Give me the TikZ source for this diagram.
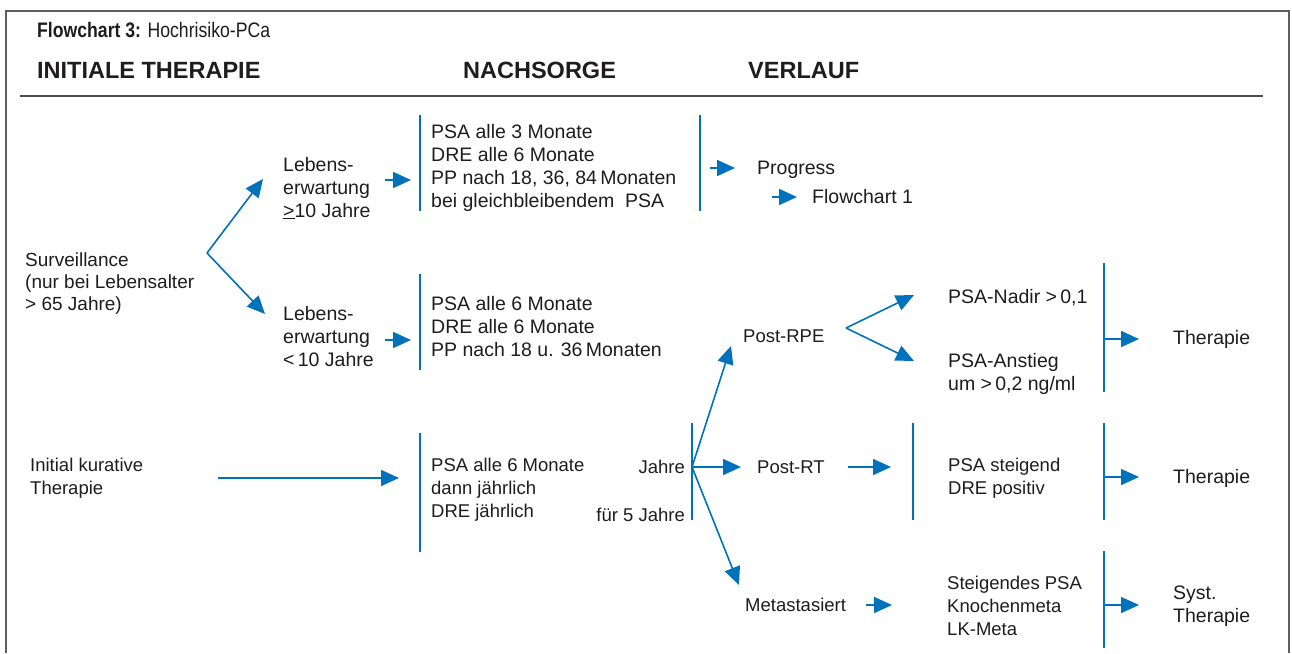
\documentclass[tikz,border=0pt]{standalone}
\usepackage{fontspec}
\setmainfont{Liberation Sans}
\newfontfamily\condfont[FakeStretch=0.84]{Liberation Sans}
\usetikzlibrary{arrows.meta}
\definecolor{flowblue}{RGB}{0,114,188}
\definecolor{ink}{RGB}{30,28,28}
\definecolor{framegray}{RGB}{95,95,95}

\begin{document}
\begin{tikzpicture}[x=1pt,y=-1pt,
  txt/.style={anchor=west,inner sep=0pt,align=left,text=ink,font=\fontsize{19.5}{23}\selectfont},
  small/.style={txt,font=\fontsize{18.5}{23}\selectfont},
  head/.style={anchor=base west,inner sep=0pt,text=ink,font=\fontsize{23.5}{27}\selectfont\bfseries},
  link/.style={draw=flowblue,line width=1.6pt,-{Triangle[length=18pt,width=16pt]}},
  bar/.style={draw=flowblue,line width=1.6pt}]
\useasboundingbox (0,0) rectangle (1292,653);

% frame and header rule
\draw[framegray,line width=2pt] (6,653) -- (6,11) -- (1289,11) -- (1289,653);
\draw[framegray!80!black,line width=2pt] (20,96) -- (1263,96);

% title and column heads
\node[anchor=base west,inner sep=0pt,text=ink,font=\condfont\fontsize{21}{24}\selectfont] (title) at (37,37)
  {\textbf{Flowchart 3:} Hochrisiko-PCa};
\node[head] (h1) at (37,78) {INITIALE THERAPIE};
\node[head] (h2) at (463,78) {NACHSORGE};
\node[head] (h3) at (748,78) {VERLAUF};

% ---------- surveillance ----------
\node[txt,font=\fontsize{19}{22}\selectfont] (surv) at (25,284) {Surveillance\\(nur bei Lebensalter\\> 65 Jahre)};
\coordinate (sv) at (207,253);
\coordinate (svup) at (263,179);
\coordinate (svdn) at (265,314);
\draw[link] (sv) -- (svup);
\draw[link] (sv) -- (svdn);

\node[txt] (le1) at (283,188) {Lebens-\\erwartung\\\underline{>}10 Jahre};
\node[txt] (le2) at (283,337) {Lebens-\\erwartung\\<\,10 Jahre};

\coordinate (a1s) at (385,180); \coordinate (a1e) at (411,180);
\coordinate (a2s) at (385,340); \coordinate (a2e) at (411,340);
\draw[link] (a1s) -- (a1e);
\draw[link] (a2s) -- (a2e);

\draw[bar] (420,115) -- (420,211);
\draw[bar] (420,274) -- (420,370);

\node[txt] (ns1) at (431,168) {PSA alle 3 Monate\\DRE alle 6 Monate\\PP nach 18, 36, 84\,Monaten\\bei gleichbleibendem\ \ PSA};
\node[txt] (ns2) at (431,327) {PSA alle 6 Monate\\DRE alle 6 Monate\\PP nach 18 u. 36\,Monaten};

\draw[bar] (700,115) -- (700,211);
\coordinate (p1s) at (710,168); \coordinate (p1e) at (735,168);
\draw[link] (p1s) -- (p1e);
\node[txt] (prog) at (757,170) {Progress};
\coordinate (p2s) at (772,197); \coordinate (p2e) at (797,197);
\draw[link] (p2s) -- (p2e);
\node[txt] (fc1) at (812,197) {Flowchart 1};

% ---------- curative therapy ----------
\node[small] (init) at (30,478) {Initial kurative\\Therapie};
\coordinate (k1s) at (218,478); \coordinate (k1e) at (399,478);
\draw[link] (k1s) -- (k1e);
\draw[bar] (420,433) -- (420,552);
\node[small] (ns3) at (431,490) {PSA alle 6 Monate\\dann jährlich\\DRE jährlich};

\node[small,anchor=east] (jahre) at (685,467) {Jahre};
\node[small,anchor=east] (fuenf) at (685,515) {für 5 Jahre};
\draw[bar] (692,423) -- (692,520);
\coordinate (jv) at (692,467);
\coordinate (jup) at (731,346);
\coordinate (jmid) at (741,467);
\coordinate (jdn) at (739,585);
\draw[link] (jv) -- (jup);
\draw[link] (jv) -- (jmid);
\draw[link] (jv) -- (jdn);

% post-RPE
\node[small] (rpe) at (743,336) {Post-RPE};
\coordinate (rv) at (846,328);
\coordinate (rup) at (914,295);
\coordinate (rdn) at (914,361);
\draw[link] (rv) -- (rup);
\draw[link] (rv) -- (rdn);
\node[txt] (nadir) at (948,298) {PSA-Nadir >\,0,1};
\node[txt] (anst) at (948,374) {PSA-Anstieg\\um >\,0,2 ng/ml};
\draw[bar] (1104,263) -- (1104,392);
\coordinate (t1s) at (1104,339); \coordinate (t1e) at (1139,339);
\draw[link] (t1s) -- (t1e);
\node[txt] (ther1) at (1173,339) {Therapie};

% post-RT
\node[small] (rt) at (757,467) {Post-RT};
\coordinate (rts) at (848,467); \coordinate (rte) at (891,467);
\draw[link] (rts) -- (rte);
\draw[bar] (913,423) -- (913,520);
\node[small] (steig) at (948,478) {PSA steigend\\DRE positiv};
\draw[bar] (1104,423) -- (1104,520);
\coordinate (t2s) at (1104,477); \coordinate (t2e) at (1139,477);
\draw[link] (t2s) -- (t2e);
\node[txt] (ther2) at (1173,478) {Therapie};

% metastatic
\node[small] (meta) at (745,605) {Metastasiert};
\coordinate (ms) at (866,605); \coordinate (me) at (892,605);
\draw[link] (ms) -- (me);
\node[small] (mlist) at (947,606) {Steigendes PSA\\Knochenmeta\\LK-Meta};
\draw[bar] (1104,551) -- (1104,648);
\coordinate (t3s) at (1104,605); \coordinate (t3e) at (1139,605);
\draw[link] (t3s) -- (t3e);
\node[txt] (syst) at (1173,606) {Syst.\\Therapie};
\end{tikzpicture}
\end{document}
